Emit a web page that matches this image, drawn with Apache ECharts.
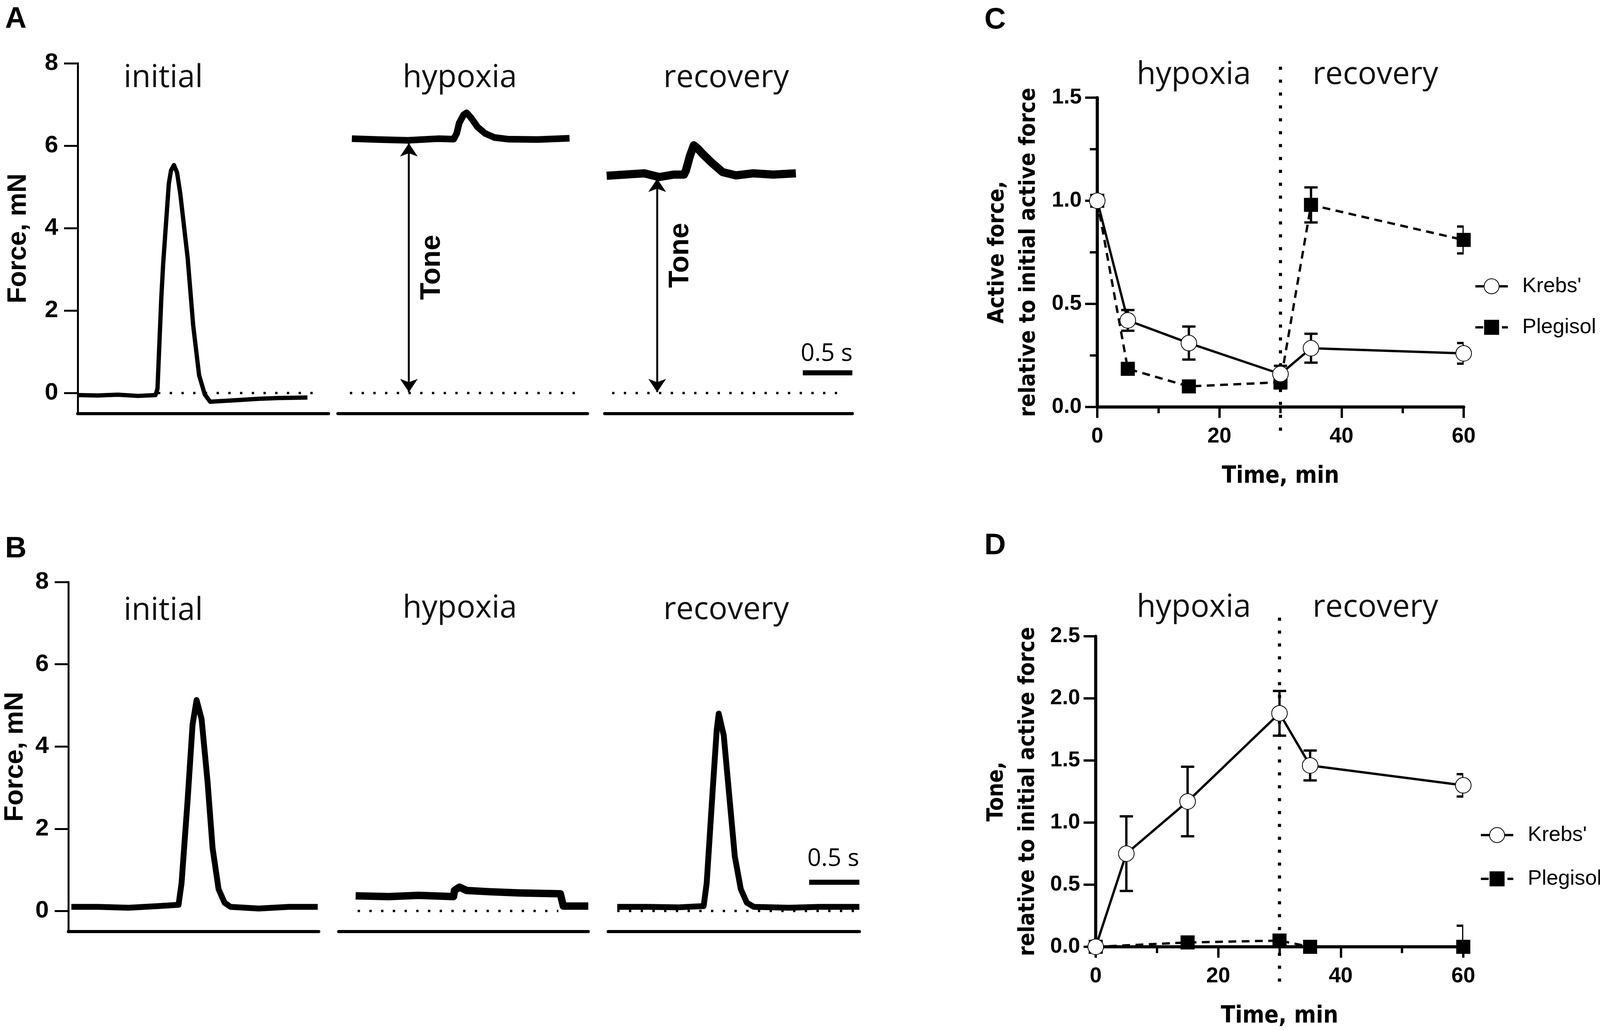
<!DOCTYPE html>
<html>
<head>
<meta charset="utf-8">
<script src="https://cdn.jsdelivr.net/npm/echarts@6/dist/echarts.min.js"></script>
<style>
html, body { margin: 0; padding: 0; background: #fff; overflow: hidden; }
#main { width: 100vw; height: 100vh; }
</style>
</head>
<body>
<div id="main"></div>
<script>
// force traces: [time, s ; force, mN]
const aInitial = [[0.0,-0.05],[0.2,-0.06],[0.4,-0.04],[0.6,-0.07],[0.775,-0.05],[0.795,0.1],[0.833,2.3],[0.852,3.15],[0.908,5.08],[0.93,5.4],[0.959,5.53],[0.99,5.35],[1.022,4.84],[1.096,3.27],[1.151,1.64],[1.21,0.43],[1.266,-0.03],[1.32,-0.21],[1.4,-0.2],[1.6,-0.17],[1.8,-0.14],[2.0,-0.12],[2.29,-0.11]]
const aHypoxia = [[0.14,6.17],[0.4,6.15],[0.7,6.13],[1.0,6.17],[1.16,6.16],[1.19,6.3],[1.215,6.55],[1.259,6.75],[1.289,6.8],[1.333,6.68],[1.4,6.45],[1.474,6.3],[1.567,6.2],[1.7,6.16],[2.0,6.15],[2.32,6.18]]
const aRecovery = [[0.02,5.27],[0.2,5.3],[0.4,5.33],[0.55,5.24],[0.7,5.3],[0.8,5.3],[0.82,5.4],[0.86,5.75],[0.9,6.01],[0.944,5.92],[0.985,5.81],[1.075,5.6],[1.19,5.36],[1.325,5.28],[1.5,5.33],[1.7,5.3],[1.93,5.33]]
const bInitial = [[0.03,0.1],[0.3,0.1],[0.6,0.08],[0.9,0.12],[1.1,0.15],[1.13,0.67],[1.19,2.67],[1.24,4.53],[1.28,5.13],[1.33,4.67],[1.39,3.14],[1.44,1.53],[1.5,0.53],[1.56,0.2],[1.62,0.1],[1.9,0.06],[2.2,0.1],[2.49,0.1]]
const bHypoxia = [[0.17,0.37],[0.5,0.35],[0.8,0.38],[1.15,0.35],[1.16,0.5],[1.21,0.58],[1.28,0.5],[1.5,0.47],[1.8,0.44],[2.22,0.42],[2.25,0.12],[2.5,0.12]]
const bRecovery = [[0.09,0.1],[0.4,0.1],[0.7,0.09],[0.95,0.12],[0.98,0.67],[1.04,2.94],[1.08,4.4],[1.1,4.8],[1.15,4.27],[1.21,2.67],[1.26,1.33],[1.32,0.53],[1.38,0.2],[1.45,0.1],[1.8,0.08],[2.1,0.1],[2.5,0.1]]
const forceTicks = [0, 2, 4, 6, 8]
const scaleBar = [2.0, 2.5]

// summary panels
const timeMin = [0, 5, 15, 30, 35, 60]
const cKrebs = [1.0, 0.42, 0.31, 0.16, 0.285, 0.26]
const cKrebsErr = [0, 0.05, 0.08, 0.04, 0.07, 0.05]
const cPleg = [1.0, 0.185, 0.10, 0.12, 0.98, 0.81]
const cPlegErr = [0, 0.02, 0.02, 0.03, 0.085, 0.065]
const dKrebs = [0, 0.75, 1.17, 1.88, 1.46, 1.30]
const dKrebsErr = [0, 0.30, 0.28, 0.18, 0.12, 0.09]
const dPlegTime = [0, 15, 30, 35, 60]
const dPleg = [0, 0.035, 0.05, 0.0, 0.0]
const dPlegErr = [0, 0.02, 0.02, 0.02, 0.17]

const FONT = '"Liberation Sans", Arial, sans-serif'
const NARROW = '"Liberation Sans Narrow", "DejaVu Sans Condensed", "Liberation Sans", sans-serif'
const HEAD = '"Open Sans", "Noto Sans", sans-serif'

// layout was measured on a 4317 x 2637 page; fit it to whatever the window is
const sx = window.innerWidth / 4317
const sy = window.innerHeight / 2637
const px = v => Math.round(v * sx)
const py = v => Math.round(v * sy)
const fs = v => Math.round(v * Math.min(1, (sx + sy) / 2))

let chart = echarts.init(document.getElementById('main'))

let box = (l, t, w, h) => ({ left: px(l), top: py(t), width: px(w), height: py(h) })
let grids = [
  box(210, 162, 677, 897),
  box(912, 162, 673, 897),
  box(1632, 162, 668, 897),
  box(184, 1490, 676, 895),
  box(914, 1490, 673, 895),
  box(1641, 1490, 678, 895),
  box(2961, 250, 989, 792),
  box(2956, 1629, 992, 795),
]

let xAxes = []
let yAxes = []
for (let i = 0; i < 6; i++) {
  xAxes.push({
    gridIndex: i, type: 'value', min: 0, max: 2.5,
    axisLine: { onZero: false, lineStyle: { color: '#000', width: 8 } },
    axisTick: { show: false }, axisLabel: { show: false }, splitLine: { show: false },
  })
  let showY = i === 0 || i === 3
  yAxes.push({
    gridIndex: i, type: 'value', min: -0.5, max: 8, show: showY,
    axisLine: { show: true, onZero: false, lineStyle: { color: '#000', width: 5 } },
    axisTick: { show: true, length: px(37), lineStyle: { width: 5, color: '#000' }, customValues: forceTicks },
    axisLabel: { customValues: forceTicks, margin: px(53), fontSize: fs(64), fontWeight: 'bold', fontFamily: FONT, color: '#000' },
    splitLine: { show: false },
    name: 'Force, mN', nameLocation: 'middle', nameGap: px(i === 0 ? 124 : 108),
    nameTextStyle: { fontSize: fs(70), fontWeight: 'bold', fontFamily: FONT, color: '#000' },
  })
}

let summaryX = gi => ({
  gridIndex: gi, type: 'value', min: 0, max: 60, interval: 20,
  axisLine: { onZero: false, lineStyle: { color: '#000', width: 8 } },
  axisTick: { length: py(28), lineStyle: { width: 6, color: '#000' } },
  minorTick: { show: true, splitNumber: 2, length: py(16), lineStyle: { width: 6, color: '#000' } },
  axisLabel: { margin: py(48), fontSize: fs(56), fontWeight: 'bold', fontFamily: FONT, color: '#000' },
  splitLine: { show: false }, minorSplitLine: { show: false },
  name: 'Time, min', nameLocation: 'middle', nameGap: py(148),
  nameTextStyle: { fontSize: fs(62), fontWeight: 'bold', fontFamily: NARROW, color: '#000' },
})
xAxes.push(summaryX(6), summaryX(7))

let summaryY = (gi, max, name, gap, minor) => ({
  gridIndex: gi, type: 'value', min: 0, max: max, interval: 0.5,
  axisLine: { show: true, onZero: false, lineStyle: { color: '#000', width: 8 } },
  axisTick: { length: px(33), lineStyle: { width: 6, color: '#000' } },
  minorTick: { show: minor, splitNumber: 2, length: px(20), lineStyle: { width: 6, color: '#000' } },
  axisLabel: { margin: px(42), fontSize: fs(56), fontWeight: 'bold', fontFamily: FONT, color: '#000', formatter: v => v.toFixed(1) },
  splitLine: { show: false }, minorSplitLine: { show: false },
  name: name, nameLocation: 'middle', nameGap: px(gap),
  nameTextStyle: { fontSize: fs(59), fontWeight: 'bold', fontFamily: NARROW, color: '#000', lineHeight: px(84) },
})
yAxes.push(summaryY(6, 1.5, 'Active force,\nrelative to initial active force', 142, true))
yAxes.push(summaryY(7, 2.5, 'Tone,\nrelative to initial active force', 140, false))

let series = []

let trace = (gi, data, width) => ({
  type: 'line', xAxisIndex: gi, yAxisIndex: gi, data: data, symbol: 'none', z: 3,
  lineStyle: { color: '#000', width: width, join: 'round' }, silent: true,
})
series.push(trace(0, aInitial, 11), trace(1, aHypoxia, 17), trace(2, aRecovery, 21))
series.push(trace(3, bInitial, 15), trace(4, bHypoxia, 19), trace(5, bRecovery, 15))

let zeroLine = (gi, from, to, arrow) => {
  let s = {
    type: 'line', xAxisIndex: gi, yAxisIndex: gi, data: [[from, 0], [to, 0]], symbol: 'none', z: 2,
    lineStyle: { color: '#000', width: 6, type: [6, 24] }, silent: true,
  }
  if (arrow) {
    s.markLine = {
      silent: true, symbol: ['arrow', 'arrow'], symbolSize: 34, label: { show: false },
      lineStyle: { color: '#000', width: 5, type: 'solid' },
      data: [[{ coord: [arrow[0], arrow[1]] }, { coord: [arrow[0], 0.02] }]],
    }
  }
  return s
}
series.push(zeroLine(0, 0.8, 2.4), zeroLine(1, 0.12, 2.44, [0.711, 6.06]), zeroLine(2, 0.075, 2.42, [0.53, 5.2]))
series.push(zeroLine(4, 0.19, 2.2), zeroLine(5, 0.09, 2.45))

let note = (gi, pos, text, opts) => ({
  type: 'scatter', xAxisIndex: gi, yAxisIndex: gi, symbolSize: 0, silent: true, z: 5,
  itemStyle: { opacity: 1 },
  data: [{ value: pos }],
  label: Object.assign({ show: true, position: 'inside', formatter: text, color: '#000', opacity: 1, textBorderWidth: 0 }, opts),
})
let toneStyle = { rotate: 90, fontSize: fs(74), fontWeight: 'bold', fontFamily: FONT }
let scaleStyle = { fontSize: fs(64), fontFamily: HEAD }
series.push(note(1, [0.944, 3.05], 'Tone', toneStyle), note(2, [0.765, 3.34], 'Tone', toneStyle))
series.push(note(2, [2.24, 0.95], '0.5 s', scaleStyle), note(5, [2.24, 1.26], '0.5 s', scaleStyle))

let bar = (gi, y) => ({
  type: 'line', xAxisIndex: gi, yAxisIndex: gi, data: scaleBar.map(t => [t, y]), symbol: 'none',
  lineStyle: { color: '#000', width: 13, cap: 'butt' }, silent: true,
})
series.push(bar(2, 0.49), bar(5, 0.7))

// summary panels C and D
let pairs = (ts, vs) => ts.map((t, i) => [t, vs[i]])
let krebs = (gi, vals) => ({
  name: "Krebs'", type: 'line', xAxisIndex: gi, yAxisIndex: gi, data: pairs(timeMin, vals),
  symbol: 'emptyCircle', symbolSize: 40, z: 4,
  lineStyle: { color: '#000', width: 6 },
  itemStyle: { color: '#000', borderColor: '#000', borderWidth: 6 },
})
let pleg = (gi, ts, vals) => ({
  name: 'Plegisol', type: 'line', xAxisIndex: gi, yAxisIndex: gi, data: pairs(ts, vals),
  symbol: 'rect', symbolSize: 36, z: 3,
  lineStyle: { color: '#000', width: 6, type: [20, 14] },
  itemStyle: { color: '#000' },
})
let errorBars = (gi, ts, vals, errs) => ({
  type: 'custom', xAxisIndex: gi, yAxisIndex: gi, clip: true, z: 2, silent: true,
  data: ts.map((t, i) => [t, vals[i] - errs[i], vals[i] + errs[i]]),
  encode: { x: 0, y: [1, 2] },
  renderItem: (params, api) => {
    let lo = api.coord([api.value(0), api.value(1)])
    let hi = api.coord([api.value(0), api.value(2)])
    let w = px(18)
    let style = { stroke: '#000', lineWidth: 6 }
    return {
      type: 'group', children: [
        { type: 'line', shape: { x1: lo[0], y1: lo[1], x2: hi[0], y2: hi[1] }, style: style },
        { type: 'line', shape: { x1: lo[0] - w, y1: lo[1], x2: lo[0] + w, y2: lo[1] }, style: style },
        { type: 'line', shape: { x1: hi[0] - w, y1: hi[1], x2: hi[0] + w, y2: hi[1] }, style: style },
      ],
    }
  },
})
let divider = (gi, top, bottom) => ({
  type: 'line', xAxisIndex: gi, yAxisIndex: gi, data: [[30, top], [30, bottom]], symbol: 'none',
  clip: false, silent: true, z: 1,
  lineStyle: { color: '#000', width: 8, type: [8, 25] },
})

series.push(krebs(6, cKrebs), pleg(6, timeMin, cPleg),
  errorBars(6, timeMin, cKrebs, cKrebsErr), errorBars(6, timeMin, cPleg, cPlegErr), divider(6, 1.65, -0.12))
series.push(krebs(7, dKrebs), pleg(7, dPlegTime, dPleg),
  errorBars(7, timeMin, dKrebs, dKrebsErr), errorBars(7, dPlegTime, dPleg, dPlegErr), divider(7, 2.65, -0.3))

let legend = (left, top, gap) => ({
  orient: 'vertical', left: px(left), top: py(top), itemWidth: px(88), itemHeight: 48, itemGap: py(gap),
  selectedMode: false, data: ["Krebs'", 'Plegisol'],
  lineStyle: { width: 6 },
  itemStyle: { borderWidth: 6 },
  textStyle: { fontSize: fs(55), fontFamily: FONT, color: '#000', padding: [0, 0, 0, px(34)] },
})

let txt = (x, y, text, font, extra) => ({
  type: 'text', x: px(x), y: py(y), silent: true,
  style: Object.assign({ text: text, font: font, fill: '#111', align: 'center', verticalAlign: 'middle' }, extra),
})
let head = 'normal ' + fs(82) + 'px ' + HEAD
let letter = 'bold ' + fs(78) + 'px ' + FONT
let corner = { align: 'left', verticalAlign: 'top', fill: '#000' }
let graphic = [
  txt(14, 12, 'A', letter, corner),
  txt(14, 1368, 'B', letter, corner),
  txt(2656, 14, 'C', letter, corner),
  txt(2656, 1360, 'D', letter, corner),
  txt(441, 200, 'initial', head), txt(1240, 200, 'hypoxia', head), txt(1959, 200, 'recovery', head),
  txt(441, 1564, 'initial', head), txt(1240, 1558, 'hypoxia', head), txt(1959, 1562, 'recovery', head),
  txt(3221, 192, 'hypoxia', head), txt(3711, 192, 'recovery', head),
  txt(3221, 1556, 'hypoxia', head), txt(3711, 1556, 'recovery', head),
]

let options = {
  backgroundColor: '#fff',
  animation: false,
  grid: grids,
  xAxis: xAxes,
  yAxis: yAxes,
  legend: [legend(3972, 701, 51), legend(3987, 2106, 58)],
  series: series,
  graphic: graphic,
}
chart.setOption(options)
</script>
</body>
</html>
